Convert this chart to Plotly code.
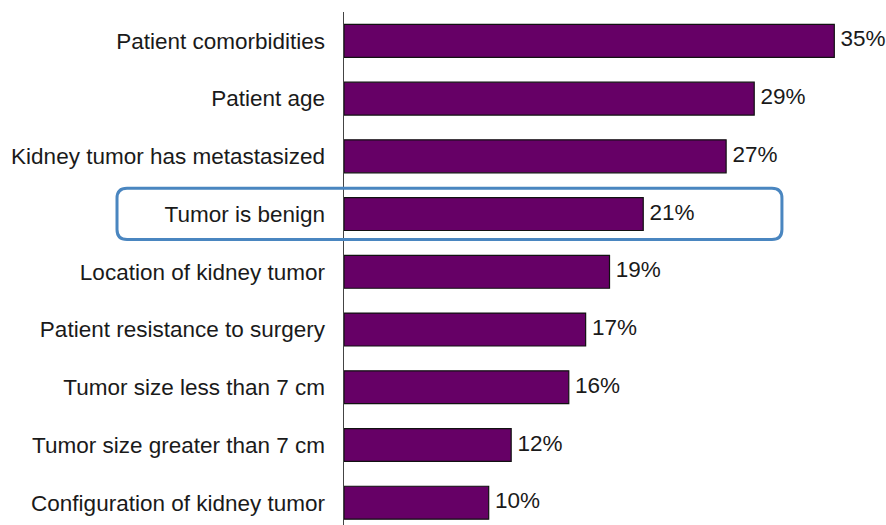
import plotly.graph_objects as go

categories = [
    "Patient comorbidities",
    "Patient age",
    "Kidney tumor has metastasized",
    "Tumor is benign",
    "Location of kidney tumor",
    "Patient resistance to surgery",
    "Tumor size less than 7 cm",
    "Tumor size greater than 7 cm",
    "Configuration of kidney tumor",
]
values = [34.9, 29.2, 27.2, 21.3, 18.9, 17.2, 16.0, 11.9, 10.3]
value_labels = ["35%", "29%", "27%", "21%", "19%", "17%", "16%", "12%", "10%"]
highlight_category = "Tumor is benign"

W, H = 886, 525
ML, MR, MT, MB = 344, 0, 12, 0
x_max = 38.58
y_range = [8.386, -0.5]

fig = go.Figure()
fig.add_trace(go.Bar(
    y=categories, x=values, orientation="h",
    marker=dict(color="#660066", line=dict(color="#111111", width=1.2)),
    width=0.57, hoverinfo="skip",
))
fig.add_trace(go.Scatter(
    y=categories, x=values, mode="text", text=value_labels,
    texttemplate=" %{text}",
    textposition="middle right",
    textfont=dict(family="Liberation Sans, Arial", size=22.5, color="#1a1a1a"),
    cliponaxis=False, hoverinfo="skip", showlegend=False,
))

# rounded highlight box around the highlighted category
idx = categories.index(highlight_category)
def py(v):
    return (y_range[0] - v) / (y_range[0] - y_range[1])
y0, y1 = py(idx + 0.44), py(idx - 0.445)
x0, x1 = -0.4188, 0.808
rx, ry = 10 / (W - ML - MR), 10 / (H - MT - MB)
path = (f"M {x0+rx},{y1} L {x1-rx},{y1} Q {x1},{y1} {x1},{y1-ry} "
        f"L {x1},{y0+ry} Q {x1},{y0} {x1-rx},{y0} "
        f"L {x0+rx},{y0} Q {x0},{y0} {x0},{y0+ry} "
        f"L {x0},{y1-ry} Q {x0},{y1} {x0+rx},{y1} Z")
fig.add_shape(type="path", path=path, xref="paper", yref="paper",
              line=dict(color="#4a86c0", width=3), fillcolor="rgba(0,0,0,0)",
              layer="above")

fig.update_layout(
    width=W, height=H,
    margin=dict(l=ML, r=MR, t=MT, b=MB),
    paper_bgcolor="white", plot_bgcolor="white",
    showlegend=False, bargap=0.43,
    xaxis=dict(range=[0, x_max], visible=False, fixedrange=True),
    yaxis=dict(
        type="category", range=y_range, autorange=False, fixedrange=True,
        showline=True, linecolor="#444444", linewidth=1.5,
        showgrid=False, ticks="", ticklabelstandoff=13,
        tickfont=dict(family="Liberation Sans, Arial", size=22.5, color="#1a1a1a"),
    ),
)
fig.write_html(
    "out.html",
    config={"displayModeBar": False, "staticPlot": True},
    post_script="document.body.style.margin='0';document.body.style.overflow='hidden';",
)
